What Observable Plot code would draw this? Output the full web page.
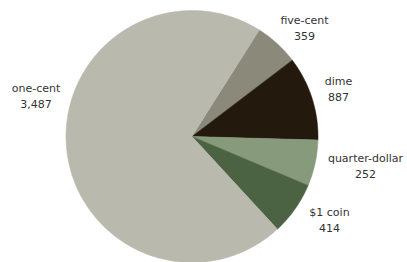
<!DOCTYPE html>
<html>
<head>
<meta charset="utf-8">
<script src="https://cdn.jsdelivr.net/npm/d3@7"></script>
<script src="https://cdn.jsdelivr.net/npm/@observablehq/plot@0.6"></script>
<style>
  html, body { margin: 0; padding: 0; background: #fff; }
  #chart svg { display: block; }
</style>
</head>
<body>
<div id="chart"></div>
<script>
// Data
const categories = ["five-cent", "dime", "quarter-dollar", "$1 coin", "one-cent"];
// slice sizes as drawn (share of the full circle, in %)
const shares = [5.7, 10.8, 5.9, 6.8, 70.8];
// values printed in the labels
const counts = [359, 887, 252, 414, 3487];
const colors = ["#8b8a7a", "#231a0d", "#879a7b", "#4b6243", "#bab9ad"];

// Layout
const W = 407, H = 262;
const cx = 191.5, cy = 136, R = 126;
const startDeg = 32.2; // clockwise from 12 o'clock

const pie = d3.pie().sort(null).value(d => d)
  .startAngle(startDeg * Math.PI / 180)
  .endAngle((startDeg + 360) * Math.PI / 180);
const arcs = pie(shares);

const pts = [];
arcs.forEach((a, i) => {
  const name = categories[i];
  pts.push({name, i, x: 0, y: 0});
  const n = Math.max(2, Math.ceil((a.endAngle - a.startAngle) * 180 / Math.PI));
  for (let k = 0; k <= n; k++) {
    const t = a.startAngle + (a.endAngle - a.startAngle) * k / n;
    pts.push({name, i, x: Math.sin(t), y: Math.cos(t)});
  }
});

// label anchor positions (in pie-radius units)
const labelPos = {
  "five-cent": [0.893, 0.869],
  "dime": [1.163, 0.389],
  "quarter-dollar": [1.377, -0.226],
  "$1 coin": [1.091, -0.651],
  "one-cent": [-1.238, 0.333]
};
const labels = categories.map((c, i) => ({
  text: c + "\n" + d3.format(",")(counts[i]),
  x: labelPos[c][0], y: labelPos[c][1]
}));

const chart = Plot.plot({
  width: W, height: H,
  marginLeft: cx - R, marginRight: W - (cx + R),
  marginTop: cy - R, marginBottom: H - (cy + R),
  x: {domain: [-1, 1], axis: null},
  y: {domain: [-1, 1], axis: null},
  style: {fontFamily: "DejaVu Sans", background: "#fff", overflow: "visible"},
  marks: [
    ...categories.map((c, i) => Plot.line(pts.filter(p => p.i === i), {
      x: "x", y: "y", curve: "linear-closed",
      fill: colors[i], stroke: colors[i], strokeWidth: 0.5
    })),
    Plot.text(labels, {
      x: "x", y: "y", text: "text",
      fontSize: 11, lineHeight: 1.45, fill: "#333",
      textAnchor: "middle"
    })
  ]
});
document.getElementById("chart").appendChild(chart);
</script>
</body>
</html>
